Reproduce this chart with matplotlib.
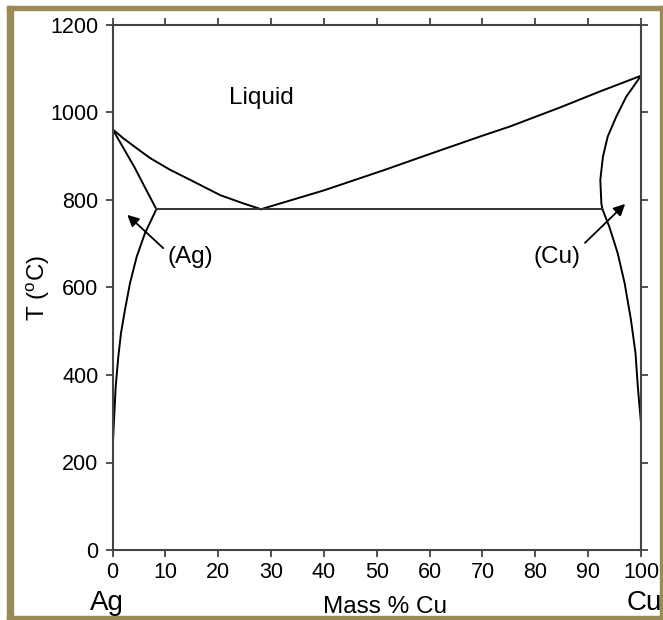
import matplotlib
matplotlib.use("Agg")
import matplotlib.pyplot as plt
from matplotlib.patches import Rectangle

plt.rcParams['font.family'] = ['Liberation Sans', 'DejaVu Sans']
plt.rcParams['mathtext.fontset'] = 'custom'
plt.rcParams['mathtext.rm'] = 'Liberation Sans'

# Ag-Cu phase diagram
liq_ag_x = [0, 2.05, 4.6, 7.1, 10.9, 14.7, 20.4, 24.8, 28.1]
liq_ag_T = [962, 941, 918, 896, 869, 846, 811, 792, 779]

liq_cu_x = [28.1, 40, 51.3, 60, 70, 75.2, 85, 92, 100]
liq_cu_T = [779, 822, 868, 905, 947, 968, 1013, 1047, 1084]

sol_ag_x = [0, 2.1, 4.2, 6.3, 8.3]
sol_ag_T = [962, 918, 874, 825, 779]

solv_ag_x = [8.3, 6.14, 4.57, 3.31, 2.36, 1.6, 1.1, 0.6, 0.35, 0.1, 0]
solv_ag_T = [779, 724, 670, 610, 549, 495, 442, 373, 312, 251, 176]

sol_cu_x = [100, 97.2, 95.3, 93.7, 92.8, 92.3, 92.5, 92.7]
sol_cu_T = [1084, 1036, 990, 945, 899, 846, 792, 779]

solv_cu_x = [92.7, 94.0, 95.6, 96.9, 98.1, 98.96, 99.4, 100]
solv_cu_T = [779, 739, 678, 610, 526, 450, 373, 290]

eutectic_T = 779
xticks = [0, 10, 20, 30, 40, 50, 60, 70, 80, 90, 100]
yticks = [0, 200, 400, 600, 800, 1000, 1200]

fig = plt.figure(figsize=(6.63, 6.2), dpi=100)
ax = fig.add_axes([112.5 / 663, 1 - 550 / 620, (641 - 112.5) / 663, (550 - 25) / 620])

lw = 1.4
for xs, ts in [(liq_ag_x, liq_ag_T), (liq_cu_x, liq_cu_T), (sol_ag_x, sol_ag_T),
               (solv_ag_x, solv_ag_T), (sol_cu_x, sol_cu_T), (solv_cu_x, solv_cu_T)]:
    ax.plot(xs, ts, color='k', lw=lw, solid_joinstyle='round')
ax.plot([sol_ag_x[-1], sol_cu_x[-1]], [eutectic_T, eutectic_T], color='#333333', lw=lw)

ax.set_xlim(0, 100)
ax.set_ylim(0, 1200)
ax.set_xticks(xticks)
ax.set_yticks(yticks)
ax.tick_params(axis='both', direction='out', length=5, width=1.3, labelsize=15.5,
               color='#444444', top=True, right=True)
ax.tick_params(axis='x', pad=4)
ax.tick_params(axis='y', pad=5)
for s in ax.spines.values():
    s.set_color('#444444')
    s.set_linewidth(1.5)

ax.text(28.2, 1033, 'Liquid', fontsize=17.5, ha='center', va='center')
ax.text(14.7, 670, '(Ag)', fontsize=17.5, ha='center', va='center')
ax.text(84.1, 670, '(Cu)', fontsize=17.5, ha='center', va='center')

arrow = dict(arrowstyle='-|>', color='k', lw=1.3, mutation_scale=17, shrinkA=0, shrinkB=0)
ax.annotate('', xy=(2.8, 766), xytext=(9.6, 690), arrowprops=arrow)
ax.annotate('', xy=(97.0, 791), xytext=(89.4, 702), arrowprops=arrow)

fig.text(38 / 663, 1 - 288 / 620, r'T ($^{\mathrm{o}}$C)', rotation=90, fontsize=17.5,
         ha='center', va='center')
fig.text(385 / 663, 1 - 613 / 620, 'Mass % Cu', fontsize=17.5, ha='center', va='baseline')
fig.text(107 / 663, 1 - 610 / 620, 'Ag', fontsize=20, ha='center', va='baseline')
fig.text(644 / 663, 1 - 610 / 620, 'Cu', fontsize=20, ha='center', va='baseline')

# olive frame around the picture
olive = '#9a8b56'
fig.patches.append(Rectangle((7 / 663, 0), 6 / 663, 1 - 6 / 620, color=olive,
                             transform=fig.transFigure, figure=fig))
fig.patches.append(Rectangle((7 / 663, 1 - 10 / 620), 1, 4 / 620, color=olive,
                             transform=fig.transFigure, figure=fig))
fig.patches.append(Rectangle((660 / 663, 0), 3 / 663, 1 - 6 / 620, color=olive,
                             transform=fig.transFigure, figure=fig))
fig.patches.append(Rectangle((7 / 663, 0), 1, 4 / 620, color=olive,
                             transform=fig.transFigure, figure=fig))

fig.savefig('out.png', dpi=100)
